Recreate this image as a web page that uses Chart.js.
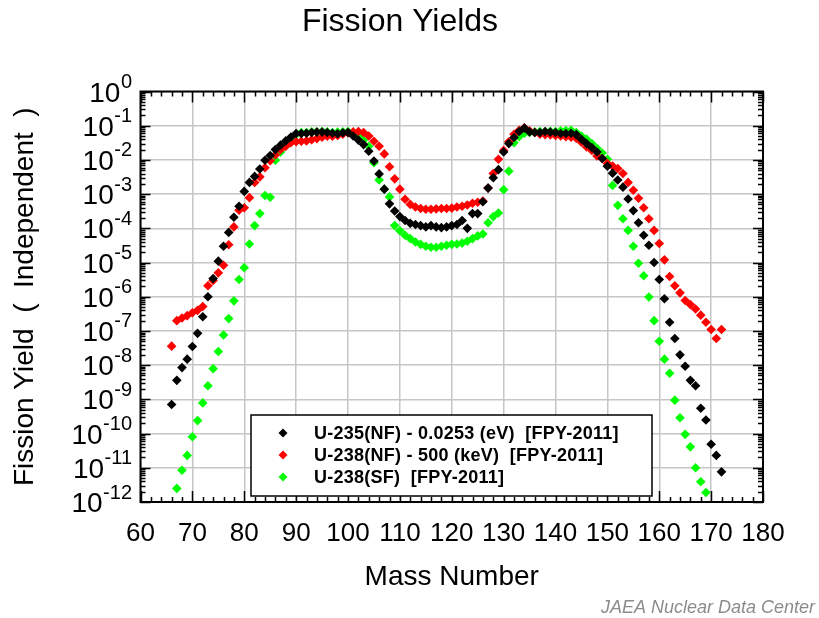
<!DOCTYPE html>
<html><head><meta charset="utf-8">
<script src="https://cdn.jsdelivr.net/npm/chart.js@4.4.1/dist/chart.umd.min.js"></script>
<style>html,body{margin:0;padding:0;background:#fff}</style>
</head><body>
<canvas id="c" width="819" height="618"></canvas>
<script>
// ---- data ----
const massU235NF = [66,67,68,69,70,71,72,73,74,75,76,77,78,79,80,81,82,83,84,85,86,87,88,89,90,91,92,93,94,95,96,97,98,99,100,101,102,103,104,105,106,107,108,109,110,111,112,113,114,115,116,117,118,119,120,121,122,123,124,125,126,127,128,129,130,131,132,133,134,135,136,137,138,139,140,141,142,143,144,145,146,147,148,149,150,151,152,153,154,155,156,157,158,159,160,161,162,163,164,165,166,167,168,169,170,171,172];
const yieldU235NF = [7.1e-10,3.6e-9,8.5e-9,1.5e-8,3.5e-8,8.5e-8,2.6e-7,1.0e-6,3.4e-6,1.1e-5,3.0e-5,7.6e-5,2.1e-4,4.4e-4,1.2e-3,2.2e-3,3.3e-3,5.4e-3,9.8e-3,1.35e-2,2.0e-2,2.7e-2,3.6e-2,4.7e-2,5.9e-2,5.9e-2,6.0e-2,6.3e-2,6.5e-2,6.5e-2,6.3e-2,6.0e-2,5.8e-2,6.2e-2,6.3e-2,5.0e-2,3.8e-2,2.8e-2,1.8e-2,9.3e-3,3.9e-3,1.4e-3,5.2e-4,3.2e-4,2.2e-4,1.7e-4,1.4e-4,1.3e-4,1.2e-4,1.1e-4,1.2e-4,1.1e-4,1.05e-4,1.1e-4,1.2e-4,1.3e-4,1.7e-4,1.0e-4,2.7e-4,2.7e-4,6.0e-4,1.5e-3,3.0e-3,5.2e-3,1.7e-2,3.0e-2,4.5e-2,6.8e-2,8.5e-2,6.6e-2,6.3e-2,6.3e-2,6.8e-2,6.5e-2,6.3e-2,5.9e-2,5.9e-2,6.0e-2,5.5e-2,4.0e-2,3.0e-2,2.3e-2,1.7e-2,1.1e-2,6.5e-3,4.1e-3,2.6e-3,1.6e-3,7.2e-4,3.3e-4,1.45e-4,6.3e-5,3.2e-5,1.0e-5,3.2e-6,8.7e-7,1.8e-7,6.0e-8,2.0e-8,9.3e-9,3.6e-9,2.5e-9,5.5e-10,2.5e-10,4.9e-11,2.3e-11,7.6e-12];

const massU238NF = [66,67,68,69,70,71,72,73,74,75,76,77,78,79,80,81,82,83,84,85,86,87,88,89,90,91,92,93,94,95,96,97,98,99,100,101,102,103,104,105,106,107,108,109,110,111,112,113,114,115,116,117,118,119,120,121,122,123,124,125,126,127,128,129,130,131,132,133,134,135,136,137,138,139,140,141,142,143,144,145,146,147,148,149,150,151,152,153,154,155,156,157,158,159,160,161,162,163,164,165,166,167,168,169,170,171,172];
const yieldU238NF = [3.6e-8,2.0e-7,2.4e-7,2.8e-7,3.4e-7,4.0e-7,5.2e-7,2.1e-6,3.0e-6,5.0e-6,8.3e-6,3.3e-5,1.1e-4,3.4e-4,4.0e-4,7.9e-4,2.2e-3,3.2e-3,5.9e-3,9.5e-3,1.4e-2,2.0e-2,2.5e-2,3.2e-2,3.4e-2,3.5e-2,3.6e-2,3.9e-2,4.2e-2,4.6e-2,4.9e-2,4.9e-2,5.2e-2,5.6e-2,6.2e-2,6.6e-2,6.8e-2,6.3e-2,5.0e-2,3.5e-2,2.5e-2,1.5e-2,6.3e-3,2.8e-3,1.4e-3,7.1e-4,5.0e-4,4.2e-4,3.8e-4,3.6e-4,3.6e-4,3.7e-4,3.8e-4,3.8e-4,3.9e-4,4.2e-4,4.4e-4,4.8e-4,5.4e-4,5.8e-4,6.3e-4,1.5e-3,4.0e-3,1.05e-2,1.9e-2,3.4e-2,5.6e-2,7.4e-2,8.7e-2,7.1e-2,6.3e-2,5.6e-2,5.5e-2,5.4e-2,5.2e-2,5.0e-2,4.8e-2,4.6e-2,4.3e-2,3.3e-2,2.4e-2,1.9e-2,1.3e-2,1.1e-2,7.9e-3,6.6e-3,5.6e-3,4.0e-3,2.2e-3,1.3e-3,7.6e-4,4.0e-4,1.9e-4,8.7e-5,3.6e-5,1.2e-5,3.9e-6,2.1e-6,1.3e-6,7.8e-7,5.9e-7,4.4e-7,2.9e-7,1.8e-7,1.1e-7,6.0e-8,1.1e-7];

const massU238SF = [67,68,69,70,71,72,73,74,75,76,77,78,79,80,81,82,83,84,85,86,87,88,89,90,91,92,93,94,95,96,97,98,99,100,101,102,103,104,105,106,107,108,109,110,111,112,113,114,115,116,117,118,119,120,121,122,123,124,125,126,127,128,129,130,131,132,133,134,135,136,137,138,139,140,141,142,143,144,145,146,147,148,149,150,151,152,153,154,155,156,157,158,159,160,161,162,163,164,165,166,167,168,169];
const yieldU238SF = [2.5e-12,8.5e-12,2.3e-11,8.1e-11,2.4e-10,7.9e-10,2.5e-9,7.9e-9,2.5e-8,7.6e-8,2.3e-7,7.6e-7,3.2e-6,7.1e-6,3.5e-5,1.2e-4,2.7e-4,9.1e-4,8.1e-4,9.8e-3,1.7e-2,2.5e-2,3.8e-2,5.5e-2,6.3e-2,6.3e-2,6.6e-2,6.6e-2,6.8e-2,6.6e-2,6.3e-2,6.5e-2,6.6e-2,6.8e-2,6.3e-2,5.0e-2,3.8e-2,2.5e-2,8.3e-3,2.6e-3,1.4e-3,8.3e-4,1.2e-4,8.5e-5,6.3e-5,5.0e-5,4.0e-5,3.4e-5,3.0e-5,2.8e-5,2.8e-5,3.0e-5,3.2e-5,3.4e-5,3.5e-5,3.7e-5,4.2e-5,5.0e-5,6.0e-5,6.8e-5,1.45e-4,2.2e-4,2.8e-4,1.35e-3,4.7e-3,3.2e-2,4.8e-2,6.0e-2,6.3e-2,6.6e-2,6.8e-2,6.6e-2,6.9e-2,6.8e-2,7.1e-2,7.2e-2,7.4e-2,6.3e-2,5.0e-2,4.0e-2,3.0e-2,2.2e-2,1.6e-2,1.05e-2,1.8e-3,4.7e-4,1.9e-4,8.7e-5,3.0e-5,9.5e-6,4.1e-6,9.8e-7,2.0e-7,5.0e-8,1.5e-8,5.8e-9,9.5e-10,2.9e-10,9.5e-11,4.1e-11,1.0e-11,3.9e-12,1.9e-12];

const seriesLabels = ['U-235(NF) - 0.0253 (eV)  [FPY-2011]', 'U-238(NF) - 500 (keV)  [FPY-2011]', 'U-238(SF)  [FPY-2011]'];
const xTickValues = [60,70,80,90,100,110,120,130,140,150,160,170,180];
const yTickExponents = [0,-1,-2,-3,-4,-5,-6,-7,-8,-9,-10,-11,-12];

// ---- helpers ----
const FONT = "'Liberation Sans', Arial, Helvetica, sans-serif";
function pts(xs, ys){ return xs.map((x,i)=>({x:x, y:ys[i]})); }
const colors = ['#000000', '#ff0000', '#00ff00'];

const decorPlugin = {
  id: 'decor',
  afterDraw(chart){
    const ctx = chart.ctx;
    const a = chart.chartArea;
    const xs = chart.scales.x, ys = chart.scales.y;
    ctx.save();
    // inward tick marks on all four sides
    ctx.strokeStyle = '#000';
    ctx.lineWidth = 1.5;
    ctx.beginPath();
    for (let m = 60; m <= 180; m += 2) {
      const px = Math.round(xs.getPixelForValue(m)) + 0.5;
      const len = (m % 10 === 0) ? 11 : 5;
      ctx.moveTo(px, a.bottom); ctx.lineTo(px, a.bottom - len);
      ctx.moveTo(px, a.top); ctx.lineTo(px, a.top + len);
    }
    for (let e = -12; e <= 0; e++) {
      const base = Math.pow(10, e);
      for (let k = 1; k <= 9; k++) {
        if (e === 0 && k > 1) break;
        const py = Math.round(ys.getPixelForValue(k * base)) + 0.5;
        const len = (k === 1) ? 10 : 5;
        ctx.moveTo(a.left, py); ctx.lineTo(a.left + len, py);
        ctx.moveTo(a.right, py); ctx.lineTo(a.right - len, py);
      }
    }
    ctx.stroke();
    // frame
    ctx.lineWidth = 2;
    ctx.strokeRect(a.left, a.top, a.right - a.left, a.bottom - a.top);

    // y tick labels: "10" with raised exponent
    ctx.fillStyle = '#000';
    ctx.textBaseline = 'alphabetic';
    ctx.textAlign = 'right';
    ys.ticks.forEach(t => {
      const e = Math.round(Math.log10(t.value));
      const gy = ys.getPixelForValue(t.value);
      const right = 132;
      ctx.font = '20px ' + FONT;
      const expStr = String(e);
      const w = ctx.measureText(expStr).width;
      ctx.fillText(expStr, right, gy - 3.5);
      ctx.font = '28px ' + FONT;
      ctx.fillText('10', right - w - 0.5, gy + 10);
    });

    // legend box
    const bx = 251, by = 415, bw = 401, bh = 81;
    ctx.fillStyle = '#fff';
    ctx.fillRect(bx, by, bw, bh);
    ctx.lineWidth = 1.5;
    ctx.strokeStyle = '#000';
    ctx.strokeRect(bx, by, bw, bh);
    const rows = [433, 455, 477];
    chart.data.datasets.forEach((ds, i) => {
      const cy = rows[i];
      const cx = 283;
      ctx.fillStyle = ds.backgroundColor;
      ctx.beginPath();
      ctx.moveTo(cx, cy - 4.5); ctx.lineTo(cx + 4.5, cy); ctx.lineTo(cx, cy + 4.5); ctx.lineTo(cx - 4.5, cy); ctx.closePath();
      ctx.fill();
      ctx.fillStyle = '#000';
      ctx.font = 'bold 18px ' + FONT;
      if ('letterSpacing' in ctx) ctx.letterSpacing = '0.25px';
      ctx.textAlign = 'left';
      ctx.textBaseline = 'middle';
      ctx.fillText(ds.label, 314, cy + 1);
      if ('letterSpacing' in ctx) ctx.letterSpacing = '0px';
    });

    // credit line
    ctx.font = 'italic 18px ' + FONT;
    ctx.fillStyle = '#8c8c8c';
    ctx.textAlign = 'right';
    ctx.textBaseline = 'alphabetic';
    ctx.fillText('JAEA Nuclear Data Center', 815, 613);
    ctx.restore();
  }
};

const gridOpts = { color: '#c6c6c6', lineWidth: 1.5, drawTicks: false };

new Chart(document.getElementById('c'), {
  type: 'scatter',
  data: {
    datasets: [
      { label: seriesLabels[0], data: pts(massU235NF, yieldU235NF), backgroundColor: colors[0], borderColor: colors[0] },
      { label: seriesLabels[1], data: pts(massU238NF, yieldU238NF), backgroundColor: colors[1], borderColor: colors[1] },
      { label: seriesLabels[2], data: pts(massU238SF, yieldU238SF), backgroundColor: colors[2], borderColor: colors[2] }
    ]
  },
  options: {
    responsive: false,
    animation: false,
    devicePixelRatio: 1,
    layout: { padding: { left: 0, right: 19, top: 0, bottom: 24 } },
    elements: { point: { pointStyle: 'rectRot', radius: 4.8, borderWidth: 0, hoverRadius: 4.8 } },
    plugins: {
      legend: { display: false },
      tooltip: { enabled: false },
      title: {
        display: true, text: 'Fission Yields', color: '#000',
        font: { family: FONT, size: 32, weight: 'normal' },
        padding: { top: 3, bottom: 50.1 }
      }
    },
    scales: {
      x: {
        type: 'linear', position: 'bottom', min: 60, max: 180,
        afterBuildTicks: s => { s.ticks = xTickValues.map(v => ({ value: v })); },
        ticks: { color: '#000', font: { family: FONT, size: 26 }, padding: 16, maxRotation: 0, autoSkip: false },
        grid: gridOpts,
        border: { display: false },
        title: { display: true, text: 'Mass Number', color: '#000', font: { family: FONT, size: 28 }, padding: { top: 0, bottom: 0 } },
        afterFit: s => { s.height = 92; }
      },
      y: {
        type: 'logarithmic', position: 'left', min: 1e-12, max: 1,
        afterBuildTicks: s => { s.ticks = yTickExponents.map(e => ({ value: Math.pow(10, e) })); },
        ticks: { display: false },
        grid: gridOpts,
        border: { display: false },
        title: { display: true, text: 'Fission Yield  (  Independent  )', color: '#000', font: { family: FONT, size: 28 }, padding: { top: 8, bottom: 0 } },
        afterFit: s => { s.width = 140.5; }
      },
      y2: {
        type: 'linear', position: 'right', display: true,
        ticks: { display: false }, grid: { display: false }, border: { display: false },
        afterFit: s => { s.width = 37; }
      }
    }
  },
  plugins: [decorPlugin]
});
</script>
</body></html>
